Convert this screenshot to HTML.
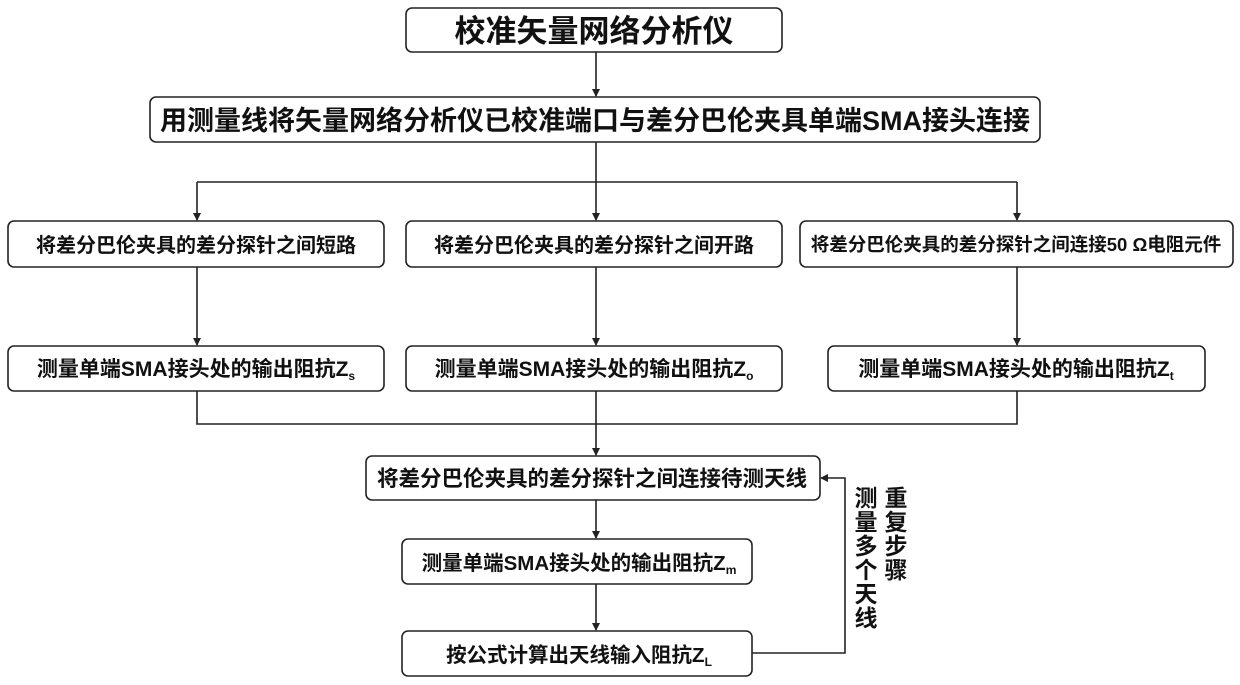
<!DOCTYPE html>
<html><head><meta charset="utf-8"><style>
html,body{margin:0;padding:0;background:#fff}
svg{display:block}
text{font-family:"Liberation Sans","Noto Sans CJK SC",sans-serif;font-weight:bold;fill:#111}
</style></head><body>
<svg width="1240" height="685" viewBox="0 0 1240 685" xmlns="http://www.w3.org/2000/svg">
<defs><marker id="a" markerWidth="8" markerHeight="8" refX="7" refY="4" orient="auto" markerUnits="userSpaceOnUse"><path d="M0,0 L8,4 L0,8 z" fill="#222"/></marker></defs>
<g fill="none" stroke="#222" stroke-width="1.6">
<rect x="406" y="8" width="376" height="44" rx="6"/>
<rect x="150" y="97" width="890" height="45" rx="6"/>
<rect x="8" y="221" width="376" height="46" rx="6"/>
<rect x="406" y="221" width="376" height="46" rx="6"/>
<rect x="800" y="221" width="433" height="46" rx="6"/>
<rect x="8" y="346" width="376" height="45" rx="6"/>
<rect x="406" y="346" width="376" height="45" rx="6"/>
<rect x="828" y="346" width="377" height="45" rx="6"/>
<rect x="366" y="456" width="454" height="44" rx="6"/>
<rect x="402" y="539" width="350" height="45" rx="6"/>
<rect x="402" y="631" width="350" height="45" rx="6"/>
<line x1="596" y1="52" x2="596" y2="96" marker-end="url(#a)"/>
<line x1="596" y1="142" x2="596" y2="182"/>
<line x1="197" y1="182" x2="1017" y2="182"/>
<line x1="197" y1="182" x2="197" y2="220" marker-end="url(#a)"/>
<line x1="596" y1="182" x2="596" y2="220" marker-end="url(#a)"/>
<line x1="1017" y1="182" x2="1017" y2="220" marker-end="url(#a)"/>
<line x1="197" y1="267" x2="197" y2="345" marker-end="url(#a)"/>
<line x1="596" y1="267" x2="596" y2="345" marker-end="url(#a)"/>
<line x1="1017" y1="267" x2="1017" y2="345" marker-end="url(#a)"/>
<polyline points="197,391 197,424 1017,424 1017,391"/>
<line x1="596" y1="391" x2="596" y2="455" marker-end="url(#a)"/>
<line x1="596" y1="500" x2="596" y2="538" marker-end="url(#a)"/>
<line x1="596" y1="584" x2="596" y2="630" marker-end="url(#a)"/>
<polyline points="752,653 845,653 845,478 821,478" marker-end="url(#a)"/>
</g>
<text x="594" y="42" font-size="31" text-anchor="middle">校准矢量网络分析仪</text>
<text x="595" y="130" font-size="27" text-anchor="middle">用测量线将矢量网络分析仪已校准端口与差分巴伦夹具单端SMA接头连接</text>
<text x="196" y="252" font-size="20" text-anchor="middle">将差分巴伦夹具的差分探针之间短路</text>
<text x="594" y="252" font-size="20" text-anchor="middle">将差分巴伦夹具的差分探针之间开路</text>
<text x="1016" y="251" font-size="18.5" text-anchor="middle">将差分巴伦夹具的差分探针之间连接50 Ω电阻元件</text>
<text x="196" y="376" font-size="21" text-anchor="middle">测量单端SMA接头处的输出阻抗Z<tspan font-size="12" dy="4">s</tspan></text>
<text x="594" y="376" font-size="21" text-anchor="middle">测量单端SMA接头处的输出阻抗Z<tspan font-size="12" dy="4">o</tspan></text>
<text x="1016" y="376" font-size="21" text-anchor="middle">测量单端SMA接头处的输出阻抗Z<tspan font-size="12" dy="4">t</tspan></text>
<text x="592" y="486" font-size="21.5" text-anchor="middle">将差分巴伦夹具的差分探针之间连接待测天线</text>
<text x="579" y="570" font-size="20.5" text-anchor="middle">测量单端SMA接头处的输出阻抗Z<tspan font-size="12" dy="4">m</tspan></text>
<text x="579" y="662" font-size="20.5" text-anchor="middle">按公式计算出天线输入阻抗Z<tspan font-size="12" dy="4">L</tspan></text>
<g font-size="23" text-anchor="middle">
<text x="866" y="506">测</text><text x="866" y="530">量</text><text x="866" y="554">多</text><text x="866" y="578">个</text><text x="866" y="602">天</text><text x="866" y="626">线</text>
<text x="896" y="506">重</text><text x="896" y="530">复</text><text x="896" y="554">步</text><text x="896" y="578">骤</text>
</g>
</svg>
</body></html>
